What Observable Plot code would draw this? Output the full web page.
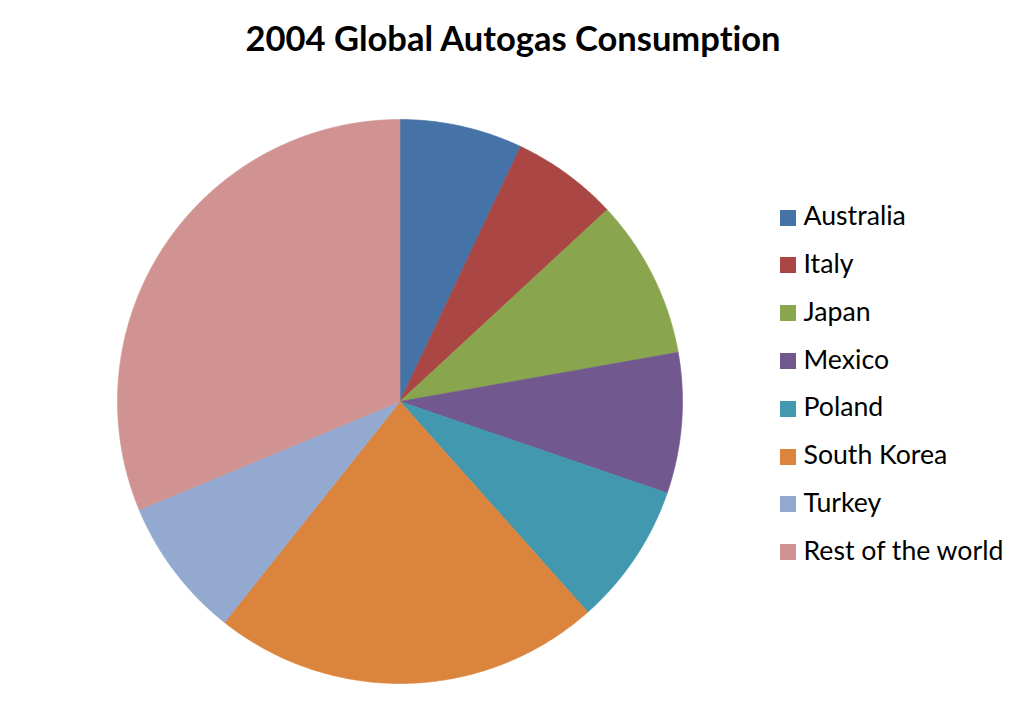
<!DOCTYPE html>
<html>
<head>
<meta charset="utf-8">
<script src="https://cdn.jsdelivr.net/npm/d3@7"></script>
<script src="https://cdn.jsdelivr.net/npm/@observablehq/plot@0.6"></script>
<style>
  html, body { margin: 0; padding: 0; background: #ffffff; }
  #wrap { position: relative; width: 1028px; height: 705px; overflow: hidden; background: #ffffff; font-variant-ligatures: none; font-feature-settings: "liga" 0, "clig" 0; }
  #chart { position: absolute; left: 0; top: 0; }
  #title { position: absolute; left: 0; width: 1028px; text-align: center; white-space: nowrap; color: #000; font-weight: bold; }
  .lg-item { position: absolute; white-space: nowrap; color: #000; }
  .lg-sw { position: absolute; }
</style>
</head>
<body>
<div id="wrap">
  <div id="chart"></div>
  <div id="title"></div>
  <div id="legend"></div>
</div>
<script>
// ---- data ----
const titleText = "2004 Global Autogas Consumption";
const countries = ["Australia", "Italy", "Japan", "Mexico", "Poland", "South Korea", "Turkey", "Rest of the world"];
const consumption = [1099, 951, 1426, 1260, 1277, 3481, 1261, 4894]; // thousand tonnes (estimated)
const colors = ["#4572A7", "#AA4643", "#89A54E", "#71588F", "#4198AF", "#DB843D", "#93A9CF", "#D19392"];

const FONT = 'Lato, "Open Sans", "DejaVu Sans", sans-serif';

// ---- pie geometry from data ----
const table = countries.map((name, i) => ({name, value: consumption[i]}));
const arcs = d3.pie().sort(null).value(d => d.value).startAngle(0).endAngle(2 * Math.PI)(table);
const points = arcs.flatMap(s => {
  const name = s.data.name;
  const n = Math.max(2, Math.ceil((s.endAngle - s.startAngle) / (Math.PI / 360)));
  const pts = [{name, x: 0, y: 0}];
  for (let k = 0; k <= n; k++) {
    const a = s.startAngle + (s.endAngle - s.startAngle) * k / n;
    pts.push({name, x: Math.sin(a), y: -Math.cos(a)});
  }
  pts.push({name, x: 0, y: 0});
  return pts;
});

const chart = Plot.plot({
  width: 1028,
  height: 705,
  margin: 0,
  x: {domain: [-1, 1], range: [117, 682], axis: null},
  y: {domain: [-1, 1], range: [119, 683], axis: null},
  color: {domain: countries, range: colors},
  marks: [
    Plot.line(points, {x: "x", y: "y", z: "name", fill: "name", stroke: "name", strokeWidth: 0.6, curve: "linear"})
  ]
});
document.getElementById("chart").appendChild(chart);

// ---- text helpers ----
const cv = document.createElement("canvas").getContext("2d");
function fitSize(text, weight, targetWidth) {
  cv.font = `${weight} 100px ${FONT}`;
  const w = cv.measureText(text).width;
  return 100 * targetWidth / w;
}
function baselineOffset(size, weight) {
  cv.font = `${weight} ${size}px ${FONT}`;
  const m = cv.measureText("Hg");
  const asc = m.fontBoundingBoxAscent, desc = m.fontBoundingBoxDescent;
  return (size - (asc + desc)) / 2 + asc; // line-height = size
}

// ---- title ----
const tEl = document.getElementById("title");
const tSize = fitSize(titleText, "bold", 537);
tEl.textContent = titleText;
tEl.style.fontFamily = FONT;
tEl.style.fontSize = tSize + "px";
tEl.style.lineHeight = tSize + "px";
tEl.style.left = (513 - 514) + "px";
tEl.style.top = (52 - baselineOffset(tSize, "bold")) + "px";

// ---- legend ----
const lg = document.getElementById("legend");
const lSize = fitSize("Rest of the world", "normal", 201);
const lOff = baselineOffset(lSize, "normal");
countries.forEach((name, i) => {
  const baseline = 225.7 + i * 47.76;
  const sw = document.createElement("div");
  sw.className = "lg-sw";
  sw.style.cssText = `left:780px;top:${baseline - 16}px;width:16px;height:16px;background:${colors[i]};`;
  lg.appendChild(sw);
  const t = document.createElement("div");
  t.className = "lg-item";
  t.textContent = name;
  t.style.cssText = `left:803.5px;top:${baseline - lOff}px;font-family:${FONT};font-size:${lSize}px;line-height:${lSize}px;letter-spacing:0px;`;
  lg.appendChild(t);
});
</script>
</body>
</html>
